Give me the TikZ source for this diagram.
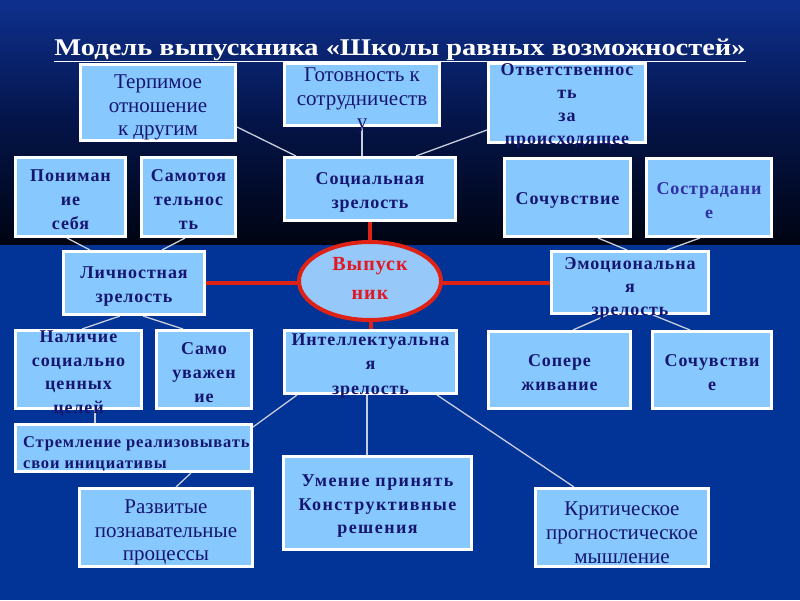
\documentclass[tikz,border=0pt]{standalone}
\usepackage{fontspec}
\setmainfont{Liberation Serif}
\newfontfamily\wfont[LetterSpace=5]{Liberation Serif}
\newfontfamily\wwfont[LetterSpace=8]{Liberation Serif}
\usetikzlibrary{shapes.geometric,calc}
\definecolor{boxfill}{RGB}{135,200,255}
\definecolor{navy}{RGB}{22,22,112}
\definecolor{navyb}{RGB}{48,48,165}
\definecolor{topblue}{RGB}{14,48,142}
\definecolor{midblue}{RGB}{4,20,72}
\definecolor{topdark}{RGB}{0,4,18}
\definecolor{botblue}{RGB}{2,52,152}
\definecolor{redl}{RGB}{222,34,22}
\definecolor{redt}{RGB}{226,24,36}
\definecolor{ellfill}{RGB}{150,200,250}
\definecolor{conc}{RGB}{200,205,220}
\definecolor{shad}{RGB}{10,20,60}
\pgfdeclarelayer{back}
\pgfdeclarelayer{bg}
\pgfsetlayers{back,bg,main}
\tikzset{
  bx/.style={draw=white, line width=3pt, fill=boxfill, inner sep=0pt},
  tr/.style={align=center, inner sep=0pt, text=navy, yshift=-5pt, font=\fontsize{21}{23.8}\selectfont},
  tb/.style={align=center, inner sep=0pt, text=navy, yshift=-3pt, font=\wfont\bfseries\fontsize{18}{24}\selectfont},
  con/.style={draw=conc, line width=1.3pt},
  redline/.style={draw=redl, line width=4pt},
  ell/.style={ellipse, draw=redl, line width=4pt, fill=ellfill, minimum width=142pt, minimum height=78pt, inner sep=0pt},
  ellt/.style={align=center, inner sep=0pt, text=redt, font=\wfont\bfseries\fontsize{20}{29}\selectfont},
}
\begin{document}
\begin{tikzpicture}[x=1pt,y=-1pt]
\useasboundingbox (0,0) rectangle (800,600);
\begin{pgfonlayer}{back}
\fill[top color=topblue, bottom color=topdark, middle color=midblue] (0,0) rectangle (800,245);
\fill[botblue] (0,245) rectangle (800,600);
\end{pgfonlayer}
% title
\node[anchor=base, inner sep=0pt, text=white, font=\bfseries\fontsize{24}{28}\selectfont] (title) at (400,55)
  {\resizebox{691pt}{\height}{\underline{Модель выпускника «Школы равных возможностей»}}};
% boxes
\node[bx, minimum width=155pt, minimum height=76pt] (ter) at (158,102.5) {};
\node[tr] (ter-t) at (ter.center) {Терпимое\\отношение\\к другим};
\node[bx, minimum width=155pt, minimum height=62pt] (got) at (362,94.5) {};
\node[tr] (got-t) at ($(got.center)+(0,1)$) {Готовность к\\сотрудничеств\\у};
\node[bx, minimum width=157pt, minimum height=79pt] (otv) at (567,103) {};
\node[tb, font=\wfont\bfseries\fontsize{18}{23}\selectfont] (otv-t) at (otv.center) {Ответственнос\\ть\\за\\происходящее};
\node[bx, minimum width=110pt, minimum height=79pt] (pon) at (70.5,197) {};
\node[tb] (pon-t) at (pon.center) {Пониман\\ие\\себя};
\node[bx, minimum width=94pt, minimum height=79pt] (sam) at (188.5,197) {};
\node[tb] (sam-t) at (sam.center) {Самотоя\\тельнос\\ть};
\node[bx, minimum width=171pt, minimum height=63pt] (soc) at (370,189) {};
\node[tb] (soc-t) at (soc.center) {Социальная\\зрелость};
\node[bx, minimum width=126pt, minimum height=78pt] (soch1) at (567.5,197.5) {};
\node[tb] (soch1-t) at (soch1.center) {Сочувствие};
\node[bx, minimum width=125pt, minimum height=78pt] (sost) at (709,197.5) {};
\node[tb, text=navyb] (sost-t) at (sost.center) {Сострадани\\е};
\node[bx, minimum width=141pt, minimum height=63pt] (lich) at (134,283) {};
\node[tb] (lich-t) at ($(lich.center)+(0,1)$) {Личностная\\зрелость};
\node[bx, minimum width=157pt, minimum height=62pt] (emo) at (630,282.5) {};
\node[tb, font=\wfont\bfseries\fontsize{18}{23}\selectfont] (emo-t) at ($(emo.center)+(0,2.5)$) {Эмоциональна\\я\\зрелость};
\node[bx, minimum width=126pt, minimum height=78pt] (nal) at (78.5,369.5) {};
\node[tb, font=\wfont\bfseries\fontsize{18}{23.5}\selectfont] (nal-t) at ($(nal.center)+(0,1)$) {Наличие\\социально\\ценных\\целей};
\node[bx, minimum width=95pt, minimum height=78pt] (samou) at (204,369.5) {};
\node[tb] (samou-t) at (samou.center) {Само\\уважен\\ие};
\node[bx, minimum width=172pt, minimum height=63pt] (int) at (370.5,362) {};
\node[tb, font=\wfont\bfseries\fontsize{18}{24.5}\selectfont] (int-t) at ($(int.center)+(0,1)$) {Интеллектуальна\\я\\зрелость};
\node[bx, minimum width=142pt, minimum height=77pt] (sopere) at (559.5,370) {};
\node[tb] (sopere-t) at (sopere.center) {Сопере\\живание};
\node[bx, minimum width=119pt, minimum height=77pt] (soch2) at (712,370) {};
\node[tb] (soch2-t) at (soch2.center) {Сочувстви\\е};
\node[bx, minimum width=236pt, minimum height=47pt] (strem) at (133.5,448) {};
\node[tb, align=left, anchor=west, yshift=0pt, font=\wfont\bfseries\fontsize{16.5}{21.5}\selectfont] (strem-t) at ($(strem.west)+(9,3)$) {Стремление реализовывать\\свои инициативы};
\node[bx, minimum width=188pt, minimum height=93pt] (umen) at (377.5,502.5) {};
\node[tb, font=\wwfont\bfseries\fontsize{18}{23.5}\selectfont] (umen-t) at ($(umen.center)+(0,1)$) {Умение принять\\Конструктивные\\решения};
\node[bx, minimum width=173pt, minimum height=78pt] (razv) at (166,527.5) {};
\node[tr] (razv-t) at (razv.center) {Развитые\\познавательные\\процессы};
\node[bx, minimum width=173pt, minimum height=78pt] (krit) at (622,527.5) {};
\node[tr] (krit-t) at (krit.center) {Критическое\\прогностическое\\мышление};
% centre ellipse
\node[ell] (vyp) at (370,281) {};
\node[ellt] (vyp-t) at ($(vyp.center)+(0,-3)$) {Выпуск\\ник};
% connectors
\begin{pgfonlayer}{bg}
\draw[redline] (soc.south) -- (soc.south |- vyp.center);
\draw[redline] (int.north) -- (int.north |- vyp.center);
\draw[redline] (lich.east) -- (lich.east -| vyp.center);
\draw[redline] (emo.west) -- (emo.west -| vyp.center);
\draw[con] ($(ter.east)+(0,24.5)$) -- ($(soc.north)+(-74,0)$);
\draw[con] (got.south) -- (got.south |- soc.north);
\draw[con] ($(otv.west)+(0,27)$) -- ($(soc.north)+(46,0)$);
\draw[con] ($(pon.south)+(-3.5,0)$) -- ($(lich.north)+(-44,0)$);
\draw[con] ($(sam.south)+(-3.5,0)$) -- ($(lich.north)+(28,0)$);
\draw[con] ($(soch1.south)+(30.5,0)$) -- ($(emo.north)+(-3,0)$);
\draw[con] ($(sost.south)+(-9,0)$) -- ($(emo.north)+(37,0)$);
\draw[con] ($(lich.south)+(-14,0)$) -- ($(nal.north)+(3.5,0)$);
\draw[con] ($(lich.south)+(9,0)$) -- ($(samou.north)+(-21,0)$);
\draw[con] ($(emo.south)+(-23,0)$) -- ($(sopere.north)+(13.5,0)$);
\draw[con] ($(emo.south)+(23,0)$) -- ($(soch2.north)+(-22,0)$);
\draw[con] ($(nal.south)+(16.5,0)$) -- ($(strem.north)+(-38.5,0)$);
\draw[con] ($(int.south)+(-73.5,0)$) -- ($(strem.east)+(0,-21)$);
\draw[con] ($(int.south)+(-3.5,0)$) -- ($(umen.north)+(-10.5,0)$);
\draw[con] ($(int.south)+(66.5,0)$) -- ($(krit.north)+(-48,0)$);
\draw[con] ($(strem.south)+(57.5,0)$) -- ($(razv.north)+(10,0)$);
\end{pgfonlayer}
\end{tikzpicture}
\end{document}
